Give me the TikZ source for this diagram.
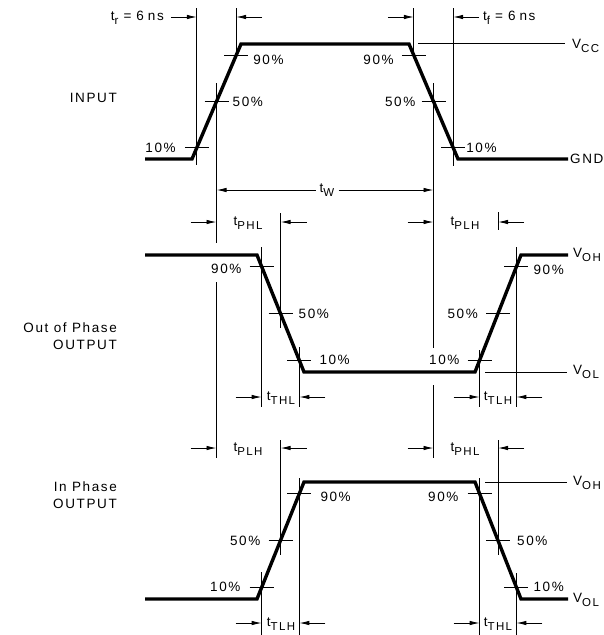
\documentclass[tikz,border=0pt]{standalone}
\usepackage{fontspec}
\usetikzlibrary{arrows.meta,calc,positioning}
\newfontfamily\lblfont{Liberation Sans}[LetterSpace=12]
\newcommand{\subs}[1]{\raisebox{-4pt}{\fontsize{11.5}{12}\selectfont #1}}
\newcommand{\dimin}[3]{%
  \draw[dimarr] (#1 |- 0,#3) ++(-26,0) -- (#1 |- 0,#3);
  \draw[dimarr] (#2 |- 0,#3) ++(26,0) -- (#2 |- 0,#3);}

\begin{document}
\begin{tikzpicture}
  [x=1pt,y=-1pt,
   wave/.style={line width=3.4pt,line join=miter},
   thinline/.style={line width=0.9pt},
   dimarr/.style={line width=0.9pt,-{Latex[length=10pt,width=4.5pt]}},
   lbl/.style={font=\lblfont\fontsize{13.5}{17}\selectfont,inner sep=1pt}]
  \useasboundingbox (0,0) rectangle (604,635);

  % waveform corners
  \coordinate (i0) at (145,159); \coordinate (i1) at (192,159);
  \coordinate (i2) at (241,44);  \coordinate (i3) at (409,44);
  \coordinate (i4) at (458,159); \coordinate (i5) at (568,159);
  \coordinate (o0) at (145,255); \coordinate (o1) at (257,255);
  \coordinate (o2) at (304,372); \coordinate (o3) at (475,372);
  \coordinate (o4) at (521,255); \coordinate (o5) at (568,255);
  \coordinate (p0) at (145,599); \coordinate (p1) at (257,599);
  \coordinate (p2) at (304,482); \coordinate (p3) at (475,482);
  \coordinate (p4) at (521,599); \coordinate (p5) at (568,599);

  \draw[wave] (i0) -- (i1) -- (i2) -- (i3) -- (i4) -- (i5);
  \draw[wave] (o0) -- (o1) -- (o2) -- (o3) -- (o4) -- (o5);
  \draw[wave] (p0) -- (p1) -- (p2) -- (p3) -- (p4) -- (p5);

  % 10/50/90 points on each edge, low end to high end
  \foreach \w/\a/\b in {ir/i1/i2, if/i4/i3, of/o2/o1, or/o3/o4, pr/p1/p2, pf/p4/p3}
    \foreach \p in {10,50,90}
      \coordinate (\w\p) at ($(\a)!0.\p!(\b)$);

  \foreach \w in {ir,if,of,or,pr,pf}
    \foreach \p in {10,50,90}
      \draw[thinline] ([xshift=-12pt]\w\p) -- ([xshift=12pt]\w\p);

  \foreach \p/\ya/\yb in {ir10/8/165, ir90/8/57, ir50/83/243, ir50/282/458,
      if90/8/57, if10/8/166, if50/83/348, if50/385/458,
      of90/247/407, of50/213/328, of10/347/407, or10/350/407, or90/247/407, or50/212/230,
      pr10/572/635, pr50/440/555, pr90/478/635, pf90/478/635, pf50/440/555, pf10/573/635}
    \draw[thinline] (\p |- 0,\ya) -- (\p |- 0,\yb);

  \draw[thinline] (418,43) -- (565,43);
  \draw[thinline] (485,372) -- (567,372);
  \draw[thinline] (485,482) -- (567,482);

  \dimin{ir10}{ir90}{17}
  \dimin{if90}{if10}{17}
  \dimin{ir50}{of50}{222}
  \dimin{if50}{or50}{222}
  \dimin{of90}{of10}{397}
  \dimin{or10}{or90}{397}
  \dimin{ir50}{pr50}{448}
  \dimin{if50}{pf50}{448}
  \dimin{pr10}{pr90}{623}
  \dimin{pf90}{pf10}{623}

  \node[lbl,anchor=east] (tr) at (165,18) {t\subs{r}\hspace{5pt}=\hspace{5pt}6\hspace{4pt}ns};
  \node[lbl,anchor=west] (tf) at (482,18) {t\subs{f}\hspace{5pt}=\hspace{5pt}6\hspace{4pt}ns};
  \node[lbl,inner sep=4pt] (tw) at (327,190) {t\subs{W}};
  \draw[dimarr] (tw) -- (ir50 |- tw);
  \draw[dimarr] (tw) -- (if50 |- tw);

  \node[lbl] (tphla) at (248,223) {t\subs{PHL}};
  \node[lbl] (tplha) at (465,223) {t\subs{PLH}};
  \node[lbl] (tthla) at (281,398) {t\subs{THL}};
  \node[lbl] (ttlha) at (498,398) {t\subs{TLH}};
  \node[lbl] (tplhb) at (248,449) {t\subs{PLH}};
  \node[lbl] (tphlb) at (465,449) {t\subs{PHL}};
  \node[lbl] (ttlhb) at (281,624) {t\subs{TLH}};
  \node[lbl] (tthlb) at (498,624) {t\subs{THL}};

  \node[lbl,anchor=west] (vcc) at (571,46) {V\subs{CC}};
  \node[lbl,anchor=west] (gnd) at (569,159) {GND};
  \node[lbl,anchor=west] (voha) at (572,255) {V\subs{OH}};
  \node[lbl,anchor=west] (vola) at (572,372) {V\subs{OL}};
  \node[lbl,anchor=west] (vohb) at (572,483) {V\subs{OH}};
  \node[lbl,anchor=west] (volb) at (572,600) {V\subs{OL}};

  \node[lbl,anchor=east] (inp) at (118,98) {INPUT};
  \node[lbl,anchor=east,align=right] (oop) at (118,336) {Out of Phase\\OUTPUT};
  \node[lbl,anchor=east,align=right] (inph) at (118,495) {In Phase\\OUTPUT};

  \node[lbl,left=20pt of ir10] (lir10) {10\%};
  \node[lbl,right=15pt of ir50] (lir50) {50\%};
  \node[lbl,right=16pt of ir90,yshift=-4pt] (lir90) {90\%};
  \node[lbl,left=19pt of if90,yshift=-4pt] (lif90) {90\%};
  \node[lbl,left=17pt of if50] (lif50) {50\%};
  \node[lbl,right=12pt of if10] (lif10) {10\%};
  \node[lbl,left=19pt of of90,yshift=-2pt] (lof90) {90\%};
  \node[lbl,right=17pt of of50] (lof50) {50\%};
  \node[lbl,right=19pt of of10] (lof10) {10\%};
  \node[lbl,left=19pt of or10] (lor10) {10\%};
  \node[lbl,left=19pt of or50] (lor50) {50\%};
  \node[lbl,right=16pt of or90,yshift=-3pt] (lor90) {90\%};
  \node[lbl,left=20pt of pr10] (lpr10) {10\%};
  \node[lbl,left=19pt of pr50] (lpr50) {50\%};
  \node[lbl,right=20pt of pr90,yshift=-3pt] (lpr90) {90\%};
  \node[lbl,left=20pt of pf90,yshift=-3pt] (lpf90) {90\%};
  \node[lbl,right=18pt of pf50] (lpf50) {50\%};
  \node[lbl,right=16pt of pf10] (lpf10) {10\%};
\end{tikzpicture}
\end{document}
